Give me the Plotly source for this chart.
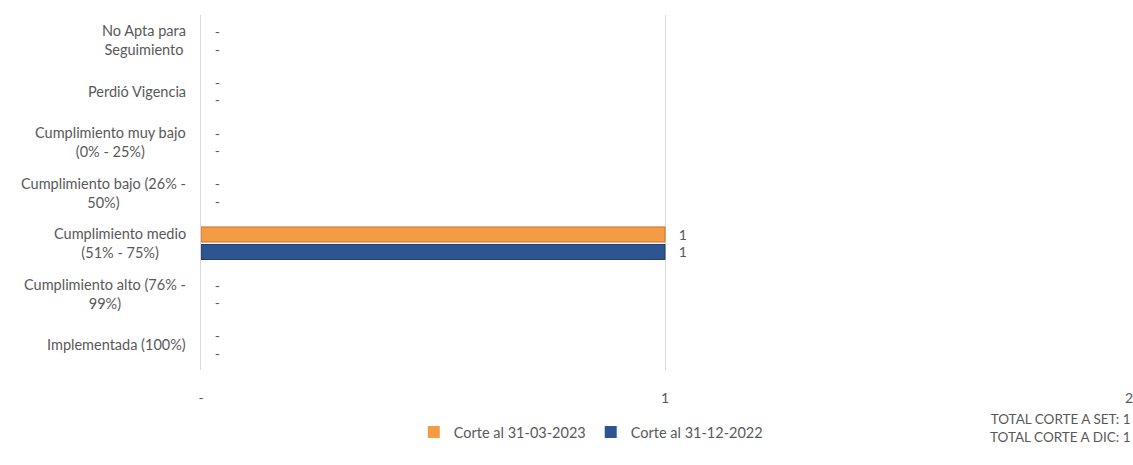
import plotly.graph_objects as go

categories = [
    "Implementada (100%)",
    "Cumplimiento alto (76% -<br>99%)",
    "Cumplimiento medio<br>(51% - 75%)",
    "Cumplimiento bajo (26% -<br>50%)",
    "Cumplimiento muy bajo<br>(0% - 25%)",
    "Perdió Vigencia",
    "No Apta para<br>Seguimiento",
]
vals_2022 = [0, 0, 1, 0, 0, 0, 0]
vals_2023 = [0, 0, 1, 0, 0, 0, 0]
tick_vals = [0, 1, 2]
tick_text = ["-", "1", "2"]
totals_text = "TOTAL CORTE A SET: 1<br>TOTAL CORTE A DIC: 1"

FONT = "Lato"
GRAY = "#595959"
PAD = "\u00a0\u00a0\u00a0"

def lbl(v):
    return [PAD + ("-" if x == 0 else str(x)) for x in v]

def lw(v):
    return [1 if x else 0 for x in v]

fig = go.Figure()
fig.add_trace(go.Bar(
    y=categories, x=vals_2022, orientation="h", name="Corte al 31-12-2022",
    marker=dict(color="#2E5591", line=dict(color="#1F3D6B", width=lw(vals_2022))),
    text=lbl(vals_2022), textposition="outside", cliponaxis=False,
    constraintext="none",
    textfont=dict(family=FONT, size=14, color=GRAY), legendrank=2,
))
fig.add_trace(go.Bar(
    y=categories, x=vals_2023, orientation="h", name="Corte al 31-03-2023",
    marker=dict(color="#F59A45", line=dict(color="#C8742A", width=lw(vals_2023))),
    text=lbl(vals_2023), textposition="outside", cliponaxis=False,
    constraintext="none",
    textfont=dict(family=FONT, size=14, color=GRAY), legendrank=1,
))

annotations = []
for c in categories:
    annotations.append(dict(
        x=-0.014, xref="paper", y=c, yref="y", text=c, showarrow=False,
        xanchor="right", yanchor="middle", align="center",
        font=dict(family=FONT, size=14.5, color=GRAY),
    ))
annotations.append(dict(
    x=1.003, xref="paper", y=-0.11, yref="paper", text=totals_text,
    showarrow=False, xanchor="right", yanchor="top", align="right",
    font=dict(family=FONT, size=13.5, color=GRAY),
))

fig.update_layout(
    width=1133, height=465,
    margin=dict(l=201, r=4, t=15, b=95, autoexpand=False),
    paper_bgcolor="white", plot_bgcolor="white",
    barmode="group", bargap=0.31, bargroupgap=0.14,
    font=dict(family=FONT, size=14, color=GRAY),
    showlegend=True,
    legend=dict(orientation="h", x=0.42, xanchor="center", y=-0.175,
                yanchor="middle", font=dict(family=FONT, size=14.5, color=GRAY),
                itemwidth=30, traceorder="normal"),
    annotations=annotations,
    xaxis=dict(range=[0, 2], tickvals=tick_vals, ticktext=tick_text,
               showgrid=True, gridcolor="#D9D9D9", gridwidth=1,
               zeroline=False, showline=False, ticklabeloverflow="allow",
               automargin=False,
               ticks="outside", ticklen=15, tickcolor="rgba(0,0,0,0)",
               tickfont=dict(family=FONT, size=14, color=GRAY)),
    yaxis=dict(showticklabels=False, showgrid=False, zeroline=False,
               showline=True, linecolor="#D9D9D9", linewidth=1,
               categoryorder="array", categoryarray=categories),
)

fig.write_html("out.html")
